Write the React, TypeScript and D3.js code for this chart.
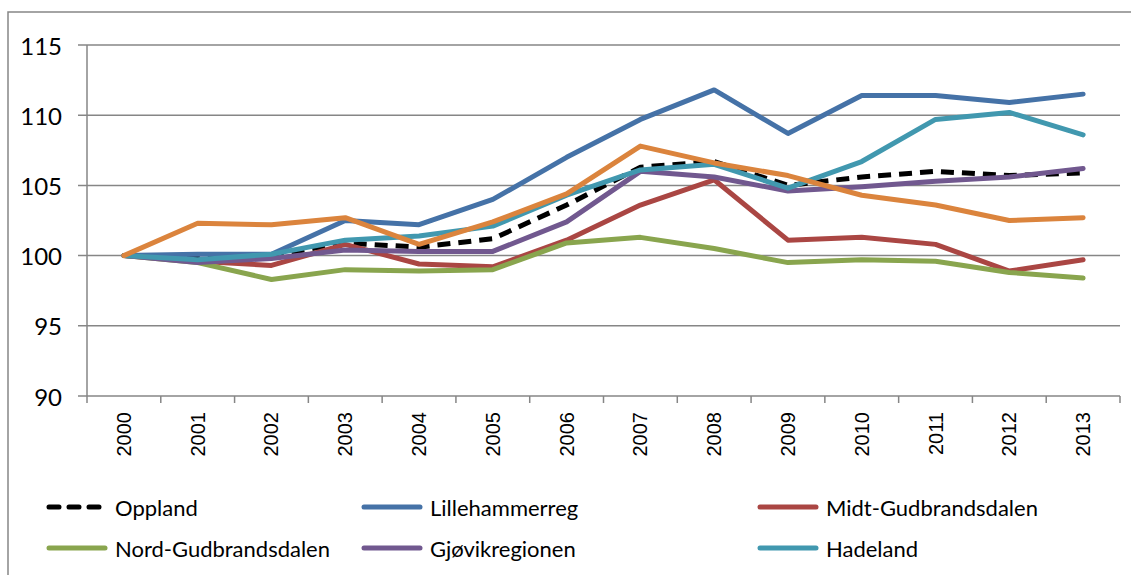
import React from "react";
import * as d3 from "d3";

const years = ["2000", "2001", "2002", "2003", "2004", "2005", "2006", "2007", "2008", "2009", "2010", "2011", "2012", "2013"];
const yTicks = [90, 95, 100, 105, 110, 115];

const oppland = [100, 99.8, 100.0, 100.9, 100.6, 101.2, 103.6, 106.3, 106.7, 105.0, 105.6, 106.0, 105.7, 105.9];
const lillehammer = [100, 100.1, 100.1, 102.5, 102.2, 104.0, 107.0, 109.7, 111.8, 108.7, 111.4, 111.4, 110.9, 111.5];
const midt = [100, 99.6, 99.3, 100.8, 99.4, 99.2, 101.1, 103.6, 105.4, 101.1, 101.3, 100.8, 98.9, 99.7];
const nord = [100, 99.5, 98.3, 99.0, 98.9, 99.0, 100.9, 101.3, 100.5, 99.5, 99.7, 99.6, 98.8, 98.4];
const gjovik = [100, 99.5, 99.8, 100.4, 100.3, 100.3, 102.4, 106.0, 105.6, 104.6, 104.9, 105.3, 105.6, 106.2];
const hadeland = [100, 99.7, 100.1, 101.1, 101.4, 102.1, 104.3, 106.1, 106.5, 104.8, 106.7, 109.7, 110.2, 108.6];
const valdres = [100, 102.3, 102.2, 102.7, 100.8, 102.4, 104.4, 107.8, 106.6, 105.7, 104.3, 103.6, 102.5, 102.7];

// Valdres' legend entry falls below the visible area in the reference
const series = [
  { name: "Oppland", values: oppland, color: "#000000", dash: "13 8", legend: true },
  { name: "Lillehammerreg", values: lillehammer, color: "#4572A7", dash: null, legend: true },
  { name: "Midt-Gudbrandsdalen", values: midt, color: "#AA4643", dash: null, legend: true },
  { name: "Nord-Gudbrandsdalen", values: nord, color: "#89A54E", dash: null, legend: true },
  { name: "Gjøvikregionen", values: gjovik, color: "#71588F", dash: null, legend: true },
  { name: "Hadeland", values: hadeland, color: "#4198AF", dash: null, legend: true },
  { name: "Valdres", values: valdres, color: "#DB843D", dash: null, legend: false },
];

export default function App() {
  const width = 1131;
  const height = 575;
  const left = 87, right = 1120, top = 45, bottom = 396;

  const x = d3.scaleBand().domain(years).range([left, right]).padding(0);
  const y = d3.scaleLinear().domain([90, 115]).range([bottom, top]);
  const cx = (yr: string) => (x(yr) as number) + x.bandwidth() / 2;

  const line = d3.line<number>()
    .x((_, i) => cx(years[i]))
    .y(d => y(d));

  const grid = "#868686";
  const legendCols = [47, 362, 758];
  const legendRows = [507, 548];

  return (
    <svg width={width} height={height} style={{ position: "absolute", left: 0, top: 0, background: "#fff" }}>
      <rect x={8} y={12} width={1140} height={600} fill="none" stroke={grid} strokeWidth={1.5} />

      {yTicks.map(t => (
        <g key={t}>
          <line x1={78} x2={right} y1={y(t)} y2={y(t)} stroke={grid} strokeWidth={1.5} />
          <text x={62} y={y(t)} textAnchor="end" dominantBaseline="central"
            fontFamily="Lato, 'Open Sans', sans-serif" fontSize={24} fill="#000">{t}</text>
        </g>
      ))}

      <line x1={left} x2={left} y1={top} y2={bottom} stroke={grid} strokeWidth={1.5} />

      {years.map((yr, i) => (
        <g key={yr}>
          <line x1={x(yr) as number} x2={x(yr) as number} y1={bottom} y2={bottom + 7} stroke={grid} strokeWidth={1.5} />
          {i === years.length - 1 && (
            <line x1={right} x2={right} y1={bottom} y2={bottom + 7} stroke={grid} strokeWidth={1.5} />
          )}
          <text transform={`translate(${cx(yr)},${bottom + 16}) rotate(-90)`} textAnchor="end" dominantBaseline="central"
            fontFamily="'Liberation Sans', Arial, sans-serif" fontSize={20} fill="#000">{yr}</text>
        </g>
      ))}

      {series.map(s => (
        <path key={s.name} d={line(s.values) as string} fill="none" stroke={s.color}
          strokeWidth={5} strokeLinejoin="round" strokeLinecap={s.dash ? "butt" : "round"}
          strokeDasharray={s.dash ?? undefined} />
      ))}

      {series.filter(s => s.legend).map((s, i) => {
        const lx = legendCols[i % 3];
        const ly = legendRows[Math.floor(i / 3)];
        return (
          <g key={s.name}>
            <line x1={lx + 2} x2={lx + 58} y1={ly} y2={ly} stroke={s.color} strokeWidth={5}
              strokeLinecap="round" strokeDasharray={s.dash ? "10 10" : undefined} />
            <text x={lx + 68} y={ly} dominantBaseline="central"
              fontFamily="Lato, 'Open Sans', sans-serif" fontSize={22} fill="#000">{s.name}</text>
          </g>
        );
      })}
    </svg>
  );
}
